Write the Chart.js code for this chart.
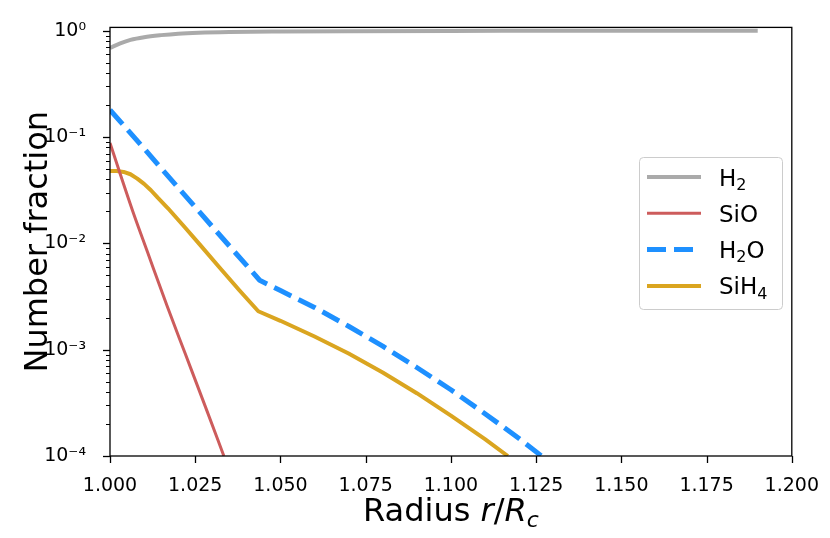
<!DOCTYPE html>
<html>
<head>
<meta charset="utf-8">
<script src="https://cdn.jsdelivr.net/npm/chart.js@4.4.0/dist/chart.umd.min.js"></script>
<style>
  html, body { margin: 0; padding: 0; background: #fff; }
</style>
</head>
<body>
<canvas id="grafico" width="830" height="538"></canvas>
<script>
// Dados (raio r/Rc e fração numérica)
var raio_H2 = [1.000, 1.003, 1.006, 1.010, 1.015, 1.020, 1.026, 1.035, 1.050, 1.070, 1.100, 1.140, 1.190];
var frac_H2 = [0.69, 0.76, 0.82, 0.87, 0.91, 0.94, 0.96, 0.975, 0.985, 0.992, 0.997, 0.999, 1.0];

var raio_SiO = [1.000, 1.003, 1.0067, 1.011, 1.0167, 1.022, 1.028, 1.0334];
var frac_SiO = [0.088, 0.045, 0.020, 0.0083, 0.0026, 0.00093, 0.00029, 0.0001];

var raio_H2O = [1.000, 1.010, 1.020, 1.030, 1.0439, 1.050, 1.060, 1.070, 1.080, 1.090, 1.100, 1.110, 1.120, 1.1266];
var frac_H2O = [0.18, 0.078, 0.0334, 0.0144, 0.0045, 0.0036, 0.0025, 0.00166, 0.00108, 0.00068, 0.00042, 0.00025, 0.000146, 0.0001];

var raio_SiH4 = [1.000, 1.002, 1.004, 1.006, 1.008, 1.010, 1.012, 1.014, 1.017, 1.022, 1.0263, 1.032, 1.038, 1.0435, 1.050, 1.060, 1.070, 1.080, 1.090, 1.100, 1.110, 1.1167];
var frac_SiH4 = [0.0479, 0.0479, 0.0470, 0.0447, 0.0407, 0.0363, 0.0316, 0.0269, 0.0214, 0.0141, 0.0098, 0.0060, 0.0036, 0.0023, 0.00187, 0.00133, 0.00092, 0.00061, 0.00039, 0.00024, 0.000144, 0.0001];

// Rótulos dos eixos
var xTicks = [1.000, 1.025, 1.050, 1.075, 1.100, 1.125, 1.150, 1.175, 1.200];
var yTicks = [1e-4, 1e-3, 1e-2, 1e-1, 1];
var yTickLabels = ["10⁻⁴", "10⁻³", "10⁻²", "10⁻¹", "10⁰"];

var fonte = '"DejaVu Sans", sans-serif';
var subscritos = "₀₁₂₃₄₅₆₇₈₉";

function pontos(xs, ys) {
  var lista = [];
  for (var i = 0; i < xs.length; i++) {
    lista.push({ x: xs[i], y: ys[i] });
  }
  return lista;
}

function linha(ctx, x1, y1, x2, y2) {
  ctx.beginPath();
  ctx.moveTo(x1, y1);
  ctx.lineTo(x2, y2);
  ctx.stroke();
}

// Escreve texto com índices (H₂O) em tamanho menor e rebaixado
function textoComIndice(ctx, texto, x, y, tam) {
  for (var i = 0; i < texto.length; i++) {
    var c = texto[i];
    var k = subscritos.indexOf(c);
    if (k >= 0) {
      ctx.font = Math.round(tam * 0.7) + "px " + fonte;
      ctx.fillText(String(k), x, y + tam * 0.18);
      x += ctx.measureText(String(k)).width;
    } else {
      ctx.font = tam + "px " + fonte;
      ctx.fillText(c, x, y);
      x += ctx.measureText(c).width;
    }
  }
}

// Moldura, marcas dos eixos, títulos e legenda
var extras = {
  id: "extras",
  afterDraw: function (chart) {
    var ctx = chart.ctx;
    var a = chart.chartArea;
    var sx = chart.scales.x;
    var sy = chart.scales.y;
    ctx.save();
    ctx.strokeStyle = "#000";
    ctx.fillStyle = "#000";

    // marcas principais
    ctx.lineWidth = 1.3;
    xTicks.forEach(function (v) {
      var px = Math.round(sx.getPixelForValue(v)) + 0.5;
      linha(ctx, px, a.bottom, px, a.bottom + 7);
    });
    yTicks.forEach(function (v) {
      var py = Math.round(sy.getPixelForValue(v)) + 0.5;
      linha(ctx, a.left - 7, py, a.left, py);
    });
    // marcas secundárias (log)
    ctx.lineWidth = 1;
    for (var e = -4; e < 0; e++) {
      for (var m = 2; m <= 9; m++) {
        var py = Math.round(sy.getPixelForValue(m * Math.pow(10, e))) + 0.5;
        linha(ctx, a.left - 4, py, a.left, py);
      }
    }

    // moldura
    ctx.lineWidth = 1.3;
    ctx.strokeRect(a.left, a.top, a.right - a.left, a.bottom - a.top);

    // título do eixo x: Radius r/R_c
    var partes = [
      { t: "Radius ", f: "32px " + fonte, dy: 0 },
      { t: "r", f: "italic 32px " + fonte, dy: 0 },
      { t: "/", f: "32px " + fonte, dy: 0 },
      { t: "R", f: "italic 32px " + fonte, dy: 0 },
      { t: "c", f: "italic 22px " + fonte, dy: 6 },
    ];
    var total = 0;
    partes.forEach(function (p) {
      ctx.font = p.f;
      p.w = ctx.measureText(p.t).width;
      total += p.w;
    });
    var cx = (a.left + a.right) / 2 - total / 2;
    ctx.textAlign = "left";
    ctx.textBaseline = "alphabetic";
    partes.forEach(function (p) {
      ctx.font = p.f;
      ctx.fillText(p.t, cx, 521 + p.dy);
      cx += p.w;
    });

    // título do eixo y
    ctx.save();
    ctx.translate(47, (a.top + a.bottom) / 2);
    ctx.rotate(-Math.PI / 2);
    ctx.font = "32px " + fonte;
    ctx.textAlign = "center";
    ctx.fillText("Number fraction", 0, 0);
    ctx.restore();

    // legenda
    var lx = 639, ly = 157, lw = 143, lh = 152;
    ctx.beginPath();
    ctx.roundRect(lx + 0.5, ly + 0.5, lw, lh, 4);
    ctx.fillStyle = "rgba(255,255,255,0.8)";
    ctx.fill();
    ctx.strokeStyle = "#cccccc";
    ctx.lineWidth = 1;
    ctx.stroke();
    ctx.textAlign = "left";
    chart.data.datasets.forEach(function (ds, i) {
      var y = ly + 20 + i * 36.3;
      ctx.strokeStyle = ds.borderColor;
      ctx.lineWidth = ds.borderWidth;
      ctx.setLineDash(ds.borderDash || []);
      ctx.lineCap = "butt";
      linha(ctx, lx + 8, y, lx + 62, y);
      ctx.setLineDash([]);
      ctx.fillStyle = "#000";
      textoComIndice(ctx, ds.label, lx + 80, y + 8.5, 23);
    });
    ctx.restore();
  },
};

var ctxGrafico = document.getElementById("grafico").getContext("2d");
var grafico = new Chart(ctxGrafico, {
  type: "line",
  data: {
    datasets: [
      {
        label: "H₂",
        data: pontos(raio_H2, frac_H2),
        borderColor: "#aaaaaa",
        borderWidth: 4,
        cubicInterpolationMode: "monotone",
      },
      {
        label: "SiO",
        data: pontos(raio_SiO, frac_SiO),
        borderColor: "#cd5c5c",
        borderWidth: 3,
        cubicInterpolationMode: "monotone",
      },
      {
        label: "H₂O",
        data: pontos(raio_H2O, frac_H2O),
        borderColor: "#1e90ff",
        borderWidth: 5,
        borderDash: [19, 8],
      },
      {
        label: "SiH₄",
        data: pontos(raio_SiH4, frac_SiH4),
        borderColor: "#daa520",
        borderWidth: 4,
      },
    ],
  },
  options: {
    responsive: false,
    animation: false,
    layout: { padding: { left: 0, right: 36, top: 12, bottom: 0 } },
    elements: {
      point: { radius: 0 },
      line: { borderJoinStyle: "round", borderCapStyle: "butt", tension: 0 },
    },
    datasets: { line: { clip: 0 } },
    plugins: { legend: { display: false }, tooltip: { enabled: false } },
    scales: {
      x: {
        type: "linear",
        min: 1.0,
        max: 1.2,
        afterBuildTicks: function (scale) {
          scale.ticks = xTicks.map(function (v) { return { value: v }; });
        },
        afterFit: function (scale) { scale.height = 82; },
        ticks: {
          autoSkip: false,
          maxRotation: 0,
          padding: 11,
          color: "#000",
          font: { family: fonte, size: 19 },
          callback: function (value) { return value.toFixed(3); },
        },
        grid: { display: false },
        border: { display: false },
      },
      y: {
        type: "logarithmic",
        min: 1e-4,
        max: 1.076,
        afterBuildTicks: function (scale) {
          scale.ticks = yTicks.map(function (v) { return { value: v }; });
        },
        afterFit: function (scale) { scale.width = 110; },
        ticks: {
          autoSkip: false,
          padding: 16,
          color: "#000",
          font: { family: fonte, size: 19 },
          callback: function (value, index) { return yTickLabels[index]; },
        },
        grid: { display: false },
        border: { display: false },
      },
    },
  },
  plugins: [extras],
});
</script>
</body>
</html>
